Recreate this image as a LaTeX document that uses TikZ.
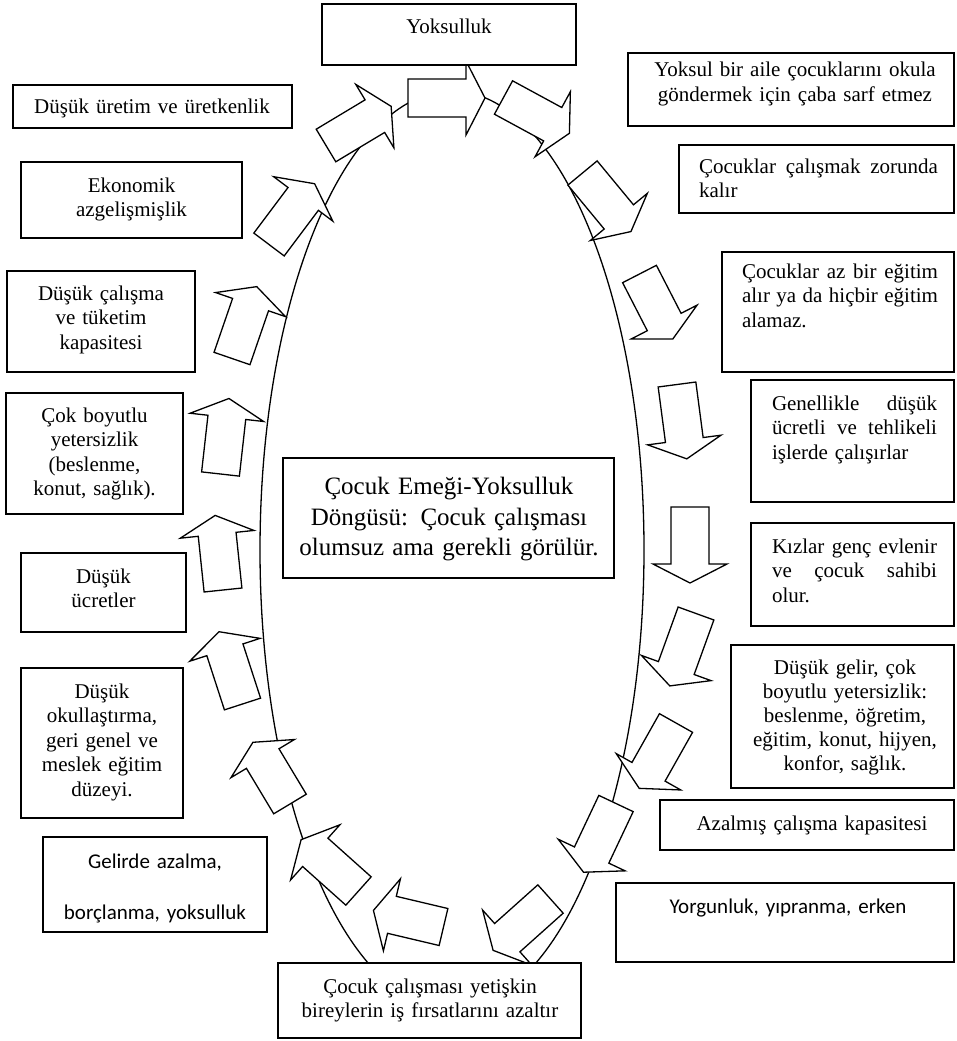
\documentclass[tikz,border=0pt]{standalone}
\usepackage{fontspec}
\setmainfont{Liberation Serif}
\newfontfamily\sansfam{Carlito}
\tikzset{
  box/.style={draw, line width=1.5pt, fill=white, inner sep=0pt},
  arrowshape/.style={draw, line width=1.3pt, fill=white, line join=miter},
  ring/.style={draw, line width=1.3pt},
  txt/.style={inner sep=0pt, font=\fontsize{21}{24.5}\selectfont, align=center, anchor=base},
  jtxt/.style={txt, align=left},
}
\newcommand\blockarr[3]{\draw[arrowshape, shift={(#1)}, rotate=#2]
  (0,-19) -- ({#3-19},-19) -- ({#3-19},-37) -- (#3,0) -- ({#3-19},37) -- ({#3-19},19) -- (0,19) -- cycle;}
\newcommand\tbox[5]{\node[box, minimum width={#4-#2}, minimum height={#5-#3}] (#1) at ({(#2+#4)/2},{(#3+#5)/2}) {};}
\newcommand\jline[2]{\makebox[#1pt][l]{#2}}
\begin{document}
\begin{tikzpicture}[x=1pt,y=-1pt]
\useasboundingbox (0,0) rectangle (956,1041);
% cycle ring
\draw[ring] (452,550) ellipse [x radius=192, y radius=459];
% block arrows round the ring
\blockarr{408,98}{0}{77}
\blockarr{503.5,97.5}{-28.5}{75}
\blockarr{582.5,173}{-50.4}{76}
\blockarr{639.5,274}{-62.8}{73}
\blockarr{677,384.5}{-82.5}{75}
\blockarr{690,507}{-90}{76}
\blockarr{696,613.5}{-109.9}{77}
\blockarr{676,723}{-119.4}{75}
\blockarr{616,803.5}{-115.3}{76}
\blockarr{550.5,899}{-138.2}{77}
\blockarr{443.5,927}{166.7}{72}
\blockarr{358.5,891}{138.2}{77}
\blockarr{290,804}{121}{72}
\blockarr{242.5,704}{108}{76}
\blockarr{223,590}{96}{75}
\blockarr{220.5,474}{83.6}{76}
\blockarr{232,358.5}{71}{76}
\blockarr{269,244.5}{53.1}{76}
\blockarr{326,145.5}{31}{76}
% boxes
\tbox{b1}{322}{4}{576}{65}
\tbox{b2}{628}{53}{954}{126}
\tbox{b3}{13}{85}{292}{128}
\tbox{b4}{679}{145}{954}{213}
\tbox{b5}{21}{162}{242}{238}
\tbox{b6}{722}{252}{954}{372}
\tbox{b7}{7}{271}{195}{372}
\tbox{b8}{751}{380}{954}{502}
\tbox{b9}{6}{393}{183}{514}
\tbox{b10}{283}{458}{614}{578}
\tbox{b11}{751}{523}{954}{626}
\tbox{b12}{21}{553}{186}{632}
\tbox{b13}{731}{645}{954}{788}
\tbox{b14}{21}{668}{183}{818}
\tbox{b15}{660}{800}{954}{850}
\tbox{b16}{43}{837}{267}{932}
\tbox{b17}{616}{883}{954}{962}
\tbox{b18}{278}{963}{581}{1038}
% texts
\node[txt, text width=240pt] (t1) at (449,34) {Yoksulluk};
\node[txt, text width=320pt] (t2) at (795,77) {Yoksul bir aile çocuklarını okula\\göndermek için çaba sarf etmez};
\node[txt, text width=275pt] (t3) at (152,113) {Düşük üretim ve üretkenlik};
\node[jtxt, text width=239pt] (t4) at (818.5,173) {\jline{239}{Çocuklar\hfill çalışmak\hfill zorunda}\\kalır};
\node[txt, text width=215pt] (t5) at (131.5,192) {Ekonomik\\azgelişmişlik};
\node[jtxt, text width=196pt] (t6) at (840,278) {\jline{196}{Çocuklar\hfill az\hfill bir\hfill eğitim}\\\jline{196}{alır\hfill ya\hfill da\hfill hiçbir\hfill eğitim}\\alamaz.};
\node[txt, text width=185pt] (t7) at (101,300) {Düşük çalışma\\ve tüketim\\kapasitesi};
\node[jtxt, text width=165pt] (t8) at (854.5,410) {\jline{165}{Genellikle\hfill düşük}\\\jline{165}{ücretli\hfill ve\hfill tehlikeli}\\işlerde çalışırlar};
\node[txt, text width=175pt] (t9) at (94.5,422) {Çok boyutlu\\yetersizlik\\(beslenme,\\konut, sağlık).};
\node[txt, text width=325pt, font=\fontsize{25}{30.5}\selectfont] (t10) at (449,494.5) {Çocuk Emeği-Yoksulluk\\Döngüsü: Çocuk çalışması\\olumsuz ama gerekli görülür.};
\node[jtxt, text width=165pt] (t11) at (854.5,553) {\jline{165}{Kızlar\hfill genç\hfill evlenir}\\\jline{165}{ve\hfill çocuk\hfill sahibi}\\olur.};
\node[txt, text width=160pt] (t12) at (103.5,583) {Düşük\\ücretler};
\node[txt, text width=220pt, font=\fontsize{21}{24.2}\selectfont] (t13) at (845,674) {Düşük gelir, çok\\boyutlu yetersizlik:\\beslenme, öğretim,\\eğitim, konut, hijyen,\\konfor, sağlık.};
\node[txt, text width=160pt] (t14) at (102,698) {Düşük\\okullaştırma,\\geri genel ve\\meslek eğitim\\düzeyi.};
\node[txt, text width=290pt] (t15) at (812,830) {Azalmış çalışma kapasitesi};
\node[txt, text width=220pt, font=\sansfam\fontsize{21}{24.5}\selectfont] (t16) at (155,868) {Gelirde azalma,\\[27pt]borçlanma, yoksulluk};
\node[txt, text width=330pt, font=\sansfam\fontsize{21}{24.5}\selectfont] (t17) at (788,913) {Yorgunluk, yıpranma, erken};
\node[txt, text width=300pt] (t18) at (430,993) {Çocuk çalışması yetişkin\\bireylerin iş fırsatlarını azaltır};
\end{tikzpicture}
\end{document}
